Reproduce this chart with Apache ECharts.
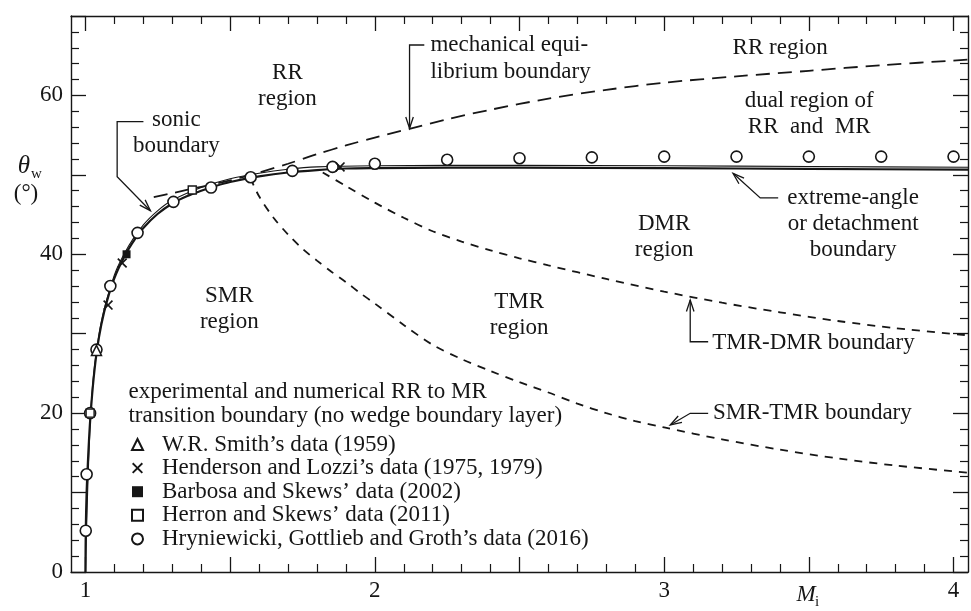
<!DOCTYPE html>
<html>
<head>
<meta charset="utf-8">
<script src="https://cdn.jsdelivr.net/npm/echarts@6/dist/echarts.min.js"></script>
<style>
  html, body { margin: 0; padding: 0; background: #fff; }
  #chart { width: 971px; height: 611px; }
</style>
</head>
<body>
<div id="chart"></div>
<script>
// Wedge angle θw against incident shock Mach number Mi:
// RR / MR transition boundaries and experimental / numerical data.

// ---- axis ranges and tick labels ----
const M_RANGE = [0.95, 4.05];
const THETA_RANGE = [0, 70];
const xTickLabels = [1, 2, 3, 4];
const yTickLabels = [0, 20, 40, 60];

// ---- extreme-angle (detachment) boundary, solid ----
const detachM     = [1.0, 1.001, 1.004, 1.008, 1.012, 1.018, 1.028, 1.04, 1.055, 1.075, 1.1, 1.13, 1.16, 1.2, 1.25, 1.3, 1.35, 1.4, 1.45, 1.5, 1.6, 1.7, 1.8, 1.9, 2.0, 2.25, 2.5, 3.0, 3.5, 4.05];
const detachTheta = [0,   5.2,   10.0,  13.5,  16.5,  20.0,  24.3,  28.0, 31.2,  34.2,  37.0, 39.4, 41.3, 43.3, 45.1, 46.4, 47.3, 48.0, 48.6, 49.1, 49.8, 50.3, 50.6, 50.8, 50.85, 50.9, 50.9, 50.85, 50.75, 50.65];

// ---- sonic boundary, thin line just above the detachment boundary ----
const sonicM     = [1.0, 1.02, 1.05, 1.1, 1.15, 1.2, 1.25, 1.3, 1.4, 1.5, 1.6, 1.7, 1.8, 2.0, 2.5, 3.0, 3.5, 4.05];
const sonicTheta = [0,   21.2, 30.6, 37.4, 41.1, 43.7, 45.5, 46.8, 48.4, 49.5, 50.2, 50.7, 51.0, 51.15, 51.2, 51.15, 51.05, 50.95];

// ---- mechanical equilibrium boundary, long dashes ----
const mechM     = [1.236, 1.3, 1.4, 1.5, 1.6, 1.7, 1.8, 1.9, 2.0, 2.12, 2.25, 2.4, 2.6, 2.8, 3.0, 3.25, 3.5, 3.75, 4.05];
const mechTheta = [47.2, 47.7, 48.5, 49.3, 50.3, 51.4, 52.6, 53.7, 54.7, 55.8, 57.0, 58.2, 59.6, 60.7, 61.6, 62.4, 63.1, 63.8, 64.5];

// ---- SMR-TMR boundary, short dashes ----
const smrTmrM     = [1.57, 1.6, 1.65, 1.7, 1.75, 1.8, 1.85, 1.9, 1.95, 2.0, 2.1, 2.2, 2.3, 2.4, 2.5, 2.6, 2.7, 2.8, 2.9, 3.0, 3.2, 3.4, 3.6, 3.8, 4.05];
const smrTmrTheta = [49.6, 47.3, 44.6, 42.5, 40.7, 39.2, 37.8, 36.5, 35.1, 33.8, 31.1, 28.6, 26.8, 25.3, 23.9, 22.6, 21.2, 20.0, 19.0, 18.2, 16.7, 15.4, 14.3, 13.4, 12.5];

// ---- TMR-DMR boundary, short dashes ----
const tmrDmrM     = [1.82, 1.9, 2.0, 2.1, 2.2, 2.3, 2.4, 2.5, 2.6, 2.8, 3.0, 3.2, 3.4, 3.6, 3.8, 4.05];
const tmrDmrTheta = [50.3, 48.6, 46.5, 44.6, 42.9, 41.6, 40.5, 39.5, 38.6, 36.9, 35.3, 33.9, 32.7, 31.6, 30.7, 29.8];

// ---- measured / computed transition points ----
const smithM = [1.038];
const smithTheta = [27.9];
const hendersonM = [1.078, 1.127, 1.88];
const hendersonTheta = [33.6, 38.9, 51.0];
const barbosaM = [1.142];
const barbosaTheta = [40.0];
const herronM = [1.016, 1.369];
const herronTheta = [20.0, 48.1];
const hryM = [1.001, 1.004, 1.016, 1.038, 1.086, 1.18, 1.304, 1.434, 1.571, 1.715, 1.854, 2.0, 2.25, 2.5, 2.75, 3.0, 3.25, 3.5, 3.75, 4.0];
const hryTheta = [5.2, 12.3, 20.0, 28.0, 36.0, 42.7, 46.6, 48.4, 49.7, 50.5, 51.0, 51.4, 51.9, 52.1, 52.2, 52.3, 52.3, 52.3, 52.3, 52.3];

const seriesNames = [
  'W.R. Smith\u2019s data (1959)',
  'Henderson and Lozzi\u2019s data (1975, 1979)',
  'Barbosa and Skews\u2019 data (2002)',
  'Herron and Skews\u2019 data (2011)',
  'Hryniewicki, Gottlieb and Groth\u2019s data (2016)'
];

// ---- annotations (anchored in data coordinates) ----
const centeredLabels = [
  { text: 'RR\nregion', at: [1.698, 61.2] },
  { text: 'sonic\nboundary', at: [1.314, 55.3] },
  { text: 'RR region', at: [3.401, 65.97] },
  { text: 'dual region of\nRR  and  MR', at: [3.501, 57.72] },
  { text: 'extreme-angle\nor detachment\nboundary', at: [3.653, 43.81] },
  { text: 'DMR\nregion', at: [3.0, 42.24] },
  { text: 'TMR\nregion', at: [2.499, 32.3] },
  { text: 'SMR\nregion', at: [1.497, 33.18] }
];
const leftLabels = [
  { text: 'mechanical equi-\nlibrium boundary', at: [2.192, 64.65] },
  { text: 'TMR-DMR boundary', at: [3.166, 28.83] },
  { text: 'SMR-TMR boundary', at: [3.169, 20.02] },
  { text: 'experimental and numerical RR to MR\ntransition boundary (no wedge boundary layer)', at: [1.1485, 21.1] }
];
const leaders = [
  [[1.2003, 56.69], [1.1095, 56.69], [1.1095, 49.77], [1.2245, 45.49]],
  [[2.171, 66.35], [2.120, 66.35], [2.120, 55.86]],
  [[3.394, 47.09], [3.332, 47.09], [3.238, 50.19]],
  [[3.152, 28.99], [3.090, 28.99], [3.090, 34.24]],
  [[3.152, 19.98], [3.090, 19.98], [3.021, 18.51]]
];

// ---- styling ----
const INK = '#161616';
const FONT = '"Liberation Serif", "DejaVu Serif", serif';

const zip = (xs, ys) => xs.map((x, i) => [x, ys[i]]);

function tickList(from, to, step, skipEvery) {
  const out = [];
  const n = Math.round((to - from) / step);
  for (let i = 0; i <= n; i++) {
    if (skipEvery && i % skipEvery === 0) continue;
    out.push(+(from + i * step).toFixed(4));
  }
  return out;
}
const xMajor = tickList(1, 4, 0.5, 0);
const xMinor = tickList(1, 4, 0.1, 5);
const yMajor = tickList(0, 70, 10, 0);
const yMinor = tickList(0, 70, 2, 5);

function axisPair(pos, range, majors, minors, labels) {
  const common = { type: 'value', min: range[0], max: range[1], position: pos, splitLine: { show: false }, axisPointer: { show: false } };
  return [
    Object.assign({}, common, {
      axisLine: { show: true, onZero: false, lineStyle: { color: INK, width: 1.4 } },
      axisTick: { show: true, inside: true, length: 15, customValues: majors, lineStyle: { color: INK, width: 1.3 } },
      axisLabel: labels
        ? { show: true, customValues: labels, color: INK, fontFamily: FONT, fontSize: 23, margin: pos === 'bottom' ? 7 : 8 }
        : { show: false }
    }),
    Object.assign({}, common, {
      axisLine: { show: false, onZero: false },
      axisTick: { show: true, inside: true, length: 8, customValues: minors, lineStyle: { color: INK, width: 1.2 } },
      axisLabel: { show: false }
    })
  ];
}

const X_PATH = 'path://M0,1.2L1.2,0L5,3.8L8.8,0L10,1.2L6.2,5L10,8.8L8.8,10L5,6.2L1.2,10L0,8.8L3.8,5Z';

function curve(name, xs, ys, width, dash) {
  return {
    type: 'line', name, data: zip(xs, ys), symbol: 'none', showSymbol: false,
    smooth: 0.3, silent: true, z: 3,
    lineStyle: { color: INK, width, type: dash || 'solid', cap: 'butt' }
  };
}
function points(name, xs, ys, symbol, size, fill, border) {
  return {
    type: 'scatter', name, data: zip(xs, ys), symbol, symbolSize: size, z: 5,
    itemStyle: { color: fill, borderColor: INK, borderWidth: border, opacity: 1 }
  };
}

const chart = echarts.init(document.getElementById('chart'), null, { renderer: 'canvas' });

chart.setOption({
  animation: false,
  backgroundColor: '#ffffff',
  grid: { left: 71, right: 3, top: 16, bottom: 39, containLabel: false, outerBoundsMode: 'none' },
  xAxis: [].concat(
    axisPair('bottom', M_RANGE, xMajor, xMinor, xTickLabels),
    axisPair('top', M_RANGE, xMajor, xMinor, null)
  ),
  yAxis: [].concat(
    axisPair('left', THETA_RANGE, yMajor, yMinor, yTickLabels),
    axisPair('right', THETA_RANGE, yMajor, yMinor, null)
  ),
  legend: {
    data: seriesNames,
    orient: 'vertical',
    left: 131,
    top: 433,
    padding: 0,
    itemWidth: 11,
    itemHeight: 11,
    itemGap: 0.6,
    selectedMode: false,
    textStyle: { fontFamily: FONT, fontSize: 23, color: INK, padding: [0, 0, 0, 14] }
  },
  series: [
    curve('sonic boundary', sonicM, sonicTheta, 1.1),
    curve('detachment boundary', detachM, detachTheta, 2.2),
    curve('mechanical equilibrium boundary', mechM, mechTheta, 1.8, [14, 8]),
    curve('SMR-TMR boundary', smrTmrM, smrTmrTheta, 1.8, [8, 7]),
    curve('TMR-DMR boundary', tmrDmrM, tmrDmrTheta, 1.8, [8, 7]),
    points(seriesNames[4], hryM, hryTheta, 'circle', 11, '#ffffff', 1.6),
    points(seriesNames[0], smithM, smithTheta, 'triangle', 10, '#ffffff', 1.5),
    points(seriesNames[1], hendersonM, hendersonTheta, X_PATH, 10, INK, 0),
    points(seriesNames[2], barbosaM, barbosaTheta, 'rect', 8, INK, 0),
    points(seriesNames[3], herronM, herronTheta, 'rect', 8, '#ffffff', 1.4)
  ]
});

// Place annotations, leader lines and axis titles once the scales exist.
const toPx = (p) => chart.convertToPixel({ gridIndex: 0 }, p);
const graphics = [];

centeredLabels.forEach((lab) => {
  const [x, y] = toPx(lab.at);
  graphics.push({
    type: 'text', x, y, silent: true,
    style: { text: lab.text, fill: INK, font: '23px ' + FONT, align: 'center', verticalAlign: 'middle', lineHeight: 26 }
  });
});
leftLabels.forEach((lab, i) => {
  const [x, y] = toPx(lab.at);
  graphics.push({
    type: 'text', x, y, silent: true,
    style: { text: lab.text, fill: INK, font: '23px ' + FONT, align: 'left', verticalAlign: 'middle', lineHeight: i === 3 ? 24 : 27 }
  });
});
leaders.forEach((pts) => {
  const px = pts.map(toPx);
  graphics.push({ type: 'polyline', silent: true, shape: { points: px }, style: { stroke: INK, lineWidth: 1.3, fill: null } });
  const tip = px[px.length - 1];
  const prev = px[px.length - 2];
  const ang = Math.atan2(tip[1] - prev[1], tip[0] - prev[0]);
  const L = 12, spread = 0.32;
  const a = [tip[0] - L * Math.cos(ang - spread), tip[1] - L * Math.sin(ang - spread)];
  const b = [tip[0] - L * Math.cos(ang + spread), tip[1] - L * Math.sin(ang + spread)];
  graphics.push({ type: 'polyline', silent: true, shape: { points: [a, tip, b] }, style: { stroke: INK, lineWidth: 1.3, fill: null } });
});

// axis titles
graphics.push(
  { type: 'text', x: 24, y: 166, silent: true, style: { text: 'θ', fill: INK, font: 'italic 25px ' + FONT, align: 'center', verticalAlign: 'middle' } },
  { type: 'text', x: 31, y: 174, silent: true, style: { text: 'w', fill: INK, font: '15px ' + FONT, align: 'left', verticalAlign: 'middle' } },
  { type: 'text', x: 26, y: 194, silent: true, style: { text: '(°)', fill: INK, font: '23px ' + FONT, align: 'center', verticalAlign: 'middle' } },
  { type: 'text', x: 806, y: 595, silent: true, style: { text: 'M', fill: INK, font: 'italic 23px ' + FONT, align: 'center', verticalAlign: 'middle' } },
  { type: 'text', x: 815, y: 602, silent: true, style: { text: 'i', fill: INK, font: '15px ' + FONT, align: 'left', verticalAlign: 'middle' } }
);

chart.setOption({ graphic: graphics });
</script>
</body>
</html>
